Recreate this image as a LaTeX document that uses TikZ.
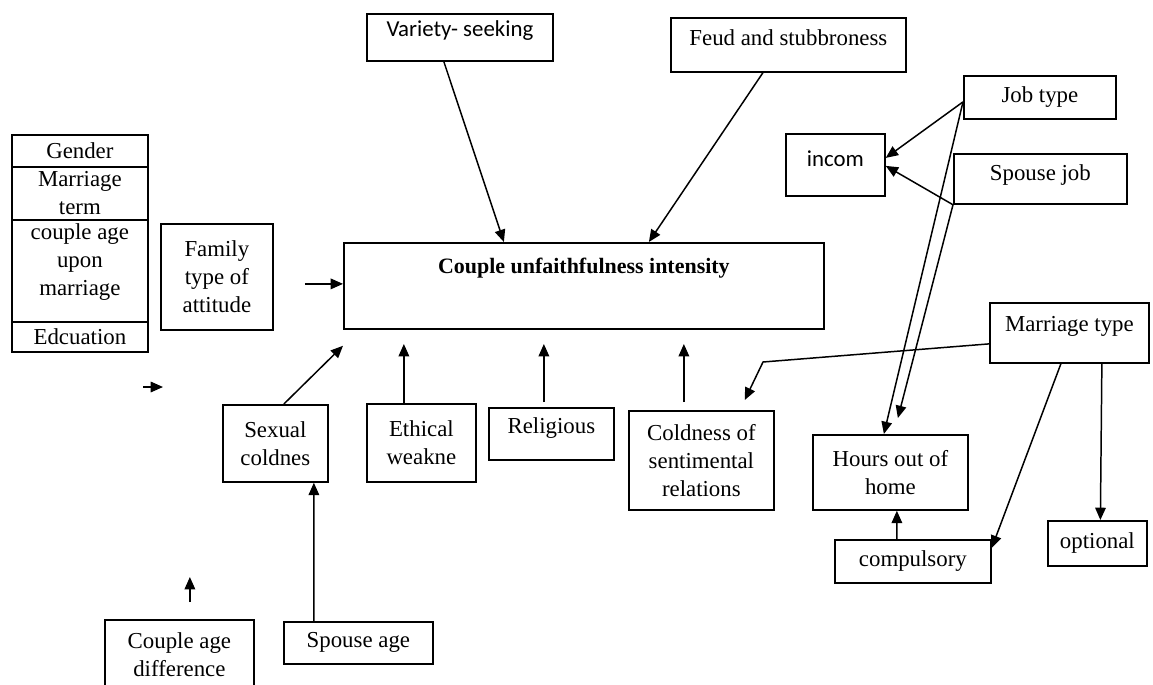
\documentclass[tikz,border=0pt]{standalone}
\usepackage{fontspec}
\setmainfont{Liberation Serif}
\newfontfamily\calibfont{Carlito}
\usetikzlibrary{arrows.meta}
\newcommand{\px}{0.02cm}

\begin{document}
\begin{tikzpicture}[
    x=0.02cm, y=-0.02cm,
    box/.style={
        rectangle,
        draw,
        line width=1pt,
        anchor=north west,
        inner sep=0pt,
        align=center,
        font=\fontsize{13}{15.9}\selectfont
    },
    wh/.style 2 args={minimum width=#1*\px, minimum height=#2*\px},
    lift/.style={text depth=#1},
    sans/.style={font=\calibfont\fontsize{13}{15.9}\selectfont},
    arr/.style={-{Triangle[length=7pt, width=6pt]}, line width=0.85pt}
]

% Frame
\path[use as bounding box] (0,0) rectangle (1153,684);
\clip (0,0) rectangle (1153,684);

% Personal factors (stacked)
\node[box, wh={136}{32}] (gender) at (11,134) {Gender};
\node[box, wh={136}{53}] (mterm) at (11,166) {Marriage\\term};
\node[box, wh={136}{102}, lift=13pt] (cage) at (11,219) {couple age\\upon\\marriage};
\node[box, wh={136}{30}] (educ) at (11,321) {Edcuation};

\node[box, wh={112}{106}] (family) at (160,223) {Family\\type of\\attitude};

% Top factors
\node[box, sans, wh={186}{47}, lift=9.5pt] (variety) at (366,13) {Variety- seeking};
\node[box, wh={235}{54}, lift=8.3pt] (feud) at (670,17) {Feud and stubbroness};

% Main box
\node[box, wh={480}{86}, lift=23pt, font=\bfseries\fontsize{12.5}{15}\selectfont] (main) at (343,242) {Couple unfaithfulness intensity};

% Bottom factors
\node[box, wh={105}{77}] (sexual) at (222,404) {Sexual\\coldnes};
\node[box, wh={109}{78}] (ethical) at (366,403) {Ethical\\weakne};
\node[box, wh={125}{52}, lift=9.3pt] (religious) at (488,407) {Religious};
\node[box, wh={145}{99}] (coldness) at (628,410) {Coldness of\\sentimental\\relations};

\node[box, wh={149}{70}] (agediff) at (104,619) {Couple age\\difference};
\node[box, wh={149}{42}] (spouseage) at (283,621) {Spouse age};

% Job and marriage factors
\node[box, wh={152}{43}] (jobtype) at (963,75) {Job type};
\node[box, sans, wh={99}{62}, lift=7.2pt] (incom) at (785,133) {incom};
\node[box, wh={173}{50}, lift=7.1pt] (spousejob) at (953,153) {Spouse job};
\node[box, wh={159}{60}, lift=10.5pt] (marriage) at (989,302) {Marriage type};
\node[box, wh={155}{75}] (hours) at (812,434) {Hours out of\\home};
\node[box, wh={156}{43}] (compulsory) at (834,539) {compulsory};
\node[box, wh={99}{45}] (optional) at (1047,520) {optional};

% Arrows into main box
\draw[arr] ([xshift=-16*\px]variety.south) -- ([xshift=-80*\px]main.north);
\draw[arr] ([xshift=-25.5*\px]feud.south) -- ([xshift=65*\px]main.north);
\draw[arr] ([xshift=31*\px, yshift=-7*\px]family.east) -- ([yshift=2*\px]main.west);
\draw[arr] ([xshift=8.5*\px]sexual.north) -- ([yshift=-16*\px]main.south west);
\draw[arr] ([xshift=-17.5*\px]ethical.north) -- ++(0,-59);
\draw[arr] ([xshift=-7.5*\px, yshift=5*\px]religious.north) -- ++(0,-58);
\draw[arr] ([xshift=-17.5*\px, yshift=8*\px]coldness.north) -- ++(0,-58);

% Stray arrow
\coordinate (strayfrom) at (143,387);
\coordinate (strayto) at (163,387);
\draw[arr] (strayfrom) -- (strayto);

% Age arrows
\draw[arr] ([xshift=-44.5*\px]spouseage.north) -- ([xshift=38.5*\px]sexual.south);
\draw[arr] ([xshift=10.5*\px, yshift=17*\px]agediff.north) -- ++(0,-25);

% Job arrows
\draw[arr] ([yshift=-4.5*\px]jobtype.west) -- ([yshift=7*\px]incom.east);
\draw[arr] (spousejob.south west) -- ([yshift=-1*\px]incom.east);
\draw[arr] ([yshift=-4.5*\px]jobtype.west) -- ([xshift=-6.5*\px]hours.north);
\draw[arr] (spousejob.south west) -- ([xshift=7.5*\px, yshift=16*\px]hours.north);

% Marriage type arrows
\coordinate (mbend) at (763,362);
\draw[arr] ([yshift=-11*\px]marriage.west) -- (mbend) -- ([xshift=-30*\px, yshift=10*\px]coldness.north east);
\draw[arr] ([xshift=-8.5*\px]marriage.south) -- ([yshift=13.5*\px]compulsory.east);
\draw[arr] ([xshift=32.5*\px]marriage.south) -- ([xshift=3*\px]optional.north);
\draw[arr] ([xshift=-16*\px]compulsory.north) -- ([xshift=6.5*\px]hours.south);

\end{tikzpicture}
\end{document}
